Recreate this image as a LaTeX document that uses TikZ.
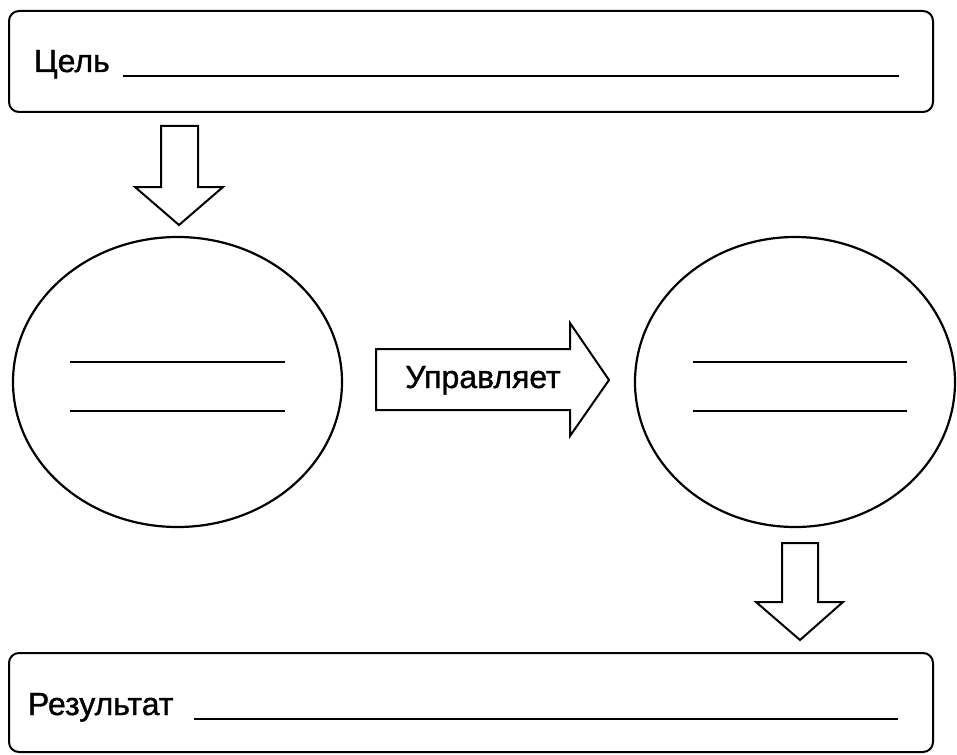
\documentclass[tikz,border=0pt]{standalone}
\usepackage{fontspec}
\setmainfont{Liberation Sans}
\newfontfamily\medfont[FakeBold=1]{Liberation Sans}
\usetikzlibrary{shapes.geometric}
\begin{document}
\begin{tikzpicture}[x=1pt,y=-1pt,line width=2pt,line join=miter,
  frame/.style={draw,rounded corners=10pt},
  oval/.style={draw,ellipse,inner sep=0pt,line width=2.2pt},
  lbl/.style={font=\medfont\fontsize{32}{34}\selectfont,inner sep=0pt},
  blank/.style={line width=1.8pt},
  blockarrow/.style={draw,line width=2pt}]
\useasboundingbox (0,0) rectangle (957,754);
% top box
\draw[frame] (9,11) rectangle (933,112);
\node[lbl,anchor=base west] (goal) at (33,72) {Цель};
\draw[blank] (123,76) -- (899,76);
% down arrow left
\draw[blockarrow] (161,126) -- (198,126) -- (198,187) -- (223,187) -- (179,225) -- (135,187) -- (161,187) -- cycle;
% left ellipse
\node[oval,minimum width=329pt,minimum height=290pt] (left) at (177.5,382) {};
\draw[blank] (70,362) -- (285,362);
\draw[blank] (70,411) -- (285,411);
% right arrow
\draw[blockarrow] (376,349) -- (570,349) -- (570,323) -- (609,380) -- (570,436) -- (570,410) -- (376,410) -- cycle;
\node[lbl,anchor=base] (ctrl) at (483,388) {Управляет};
% right ellipse
\node[oval,minimum width=320pt,minimum height=290pt] (right) at (795,382) {};
\draw[blank] (693,362) -- (907,362);
\draw[blank] (693,411) -- (907,411);
% down arrow right
\draw[blockarrow] (782,543) -- (818,543) -- (818,602) -- (843,602) -- (800,640) -- (756,602) -- (782,602) -- cycle;
% bottom box
\draw[frame] (9,653) rectangle (933,752);
\node[lbl,anchor=base west] (res) at (27,715) {Результат};
\draw[blank] (194,719) -- (898,719);
\end{tikzpicture}
\end{document}
